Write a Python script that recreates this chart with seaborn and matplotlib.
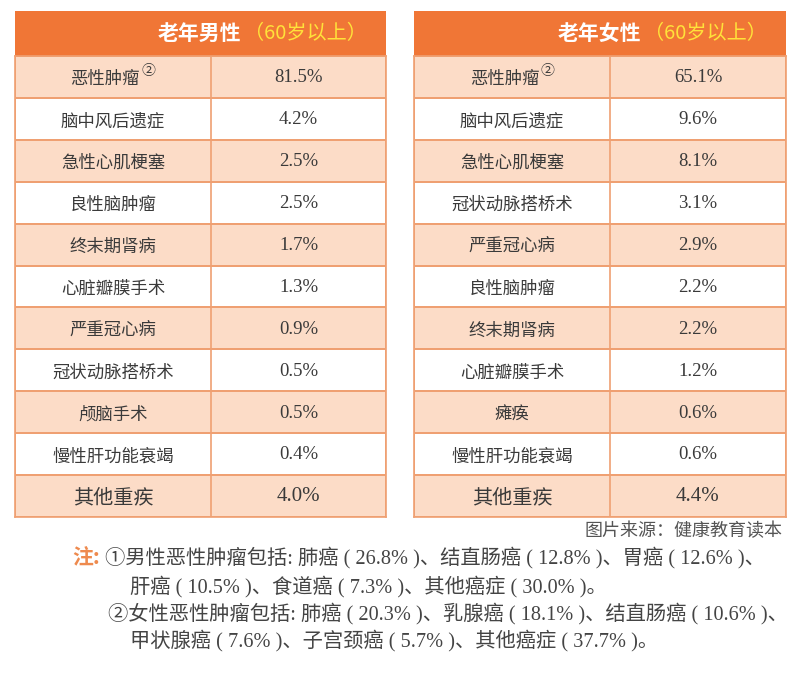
import numpy as np
import seaborn as sns
import matplotlib.pyplot as plt
from matplotlib.colors import ListedColormap

# data
men_title = "老年男性"
women_title = "老年女性"
age_note = "（60岁以上）"
men_items = ["恶性肿瘤", "脑中风后遗症", "急性心肌梗塞", "良性脑肿瘤", "终末期肾病",
             "心脏瓣膜手术", "严重冠心病", "冠状动脉搭桥术", "颅脑手术", "慢性肝功能衰竭", "其他重疾"]
men_pct = ["81.5%", "4.2%", "2.5%", "2.5%", "1.7%", "1.3%", "0.9%", "0.5%", "0.5%", "0.4%", "4.0%"]
women_items = ["恶性肿瘤", "脑中风后遗症", "急性心肌梗塞", "冠状动脉搭桥术", "严重冠心病",
               "良性脑肿瘤", "终末期肾病", "心脏瓣膜手术", "瘫痪", "慢性肝功能衰竭", "其他重疾"]
women_pct = ["65.1%", "9.6%", "8.1%", "3.1%", "2.9%", "2.2%", "2.2%", "1.2%", "0.6%", "0.6%", "4.4%"]
source = "图片来源：健康教育读本"
notes = [
    "①男性恶性肿瘤包括: 肺癌 ( 26.8% )、结直肠癌 ( 12.8% )、胃癌 ( 12.6% )、",
    "肝癌 ( 10.5% )、食道癌 ( 7.3% )、其他癌症 ( 30.0% )。",
    "②女性恶性肿瘤包括: 肺癌 ( 20.3% )、乳腺癌 ( 18.1% )、结直肠癌 ( 10.6% )、",
    "甲状腺癌 ( 7.6% )、子宫颈癌 ( 5.7% )、其他癌症 ( 37.7% )。",
]

W, H = 810, 684
ORANGE = "#F07636"
LIGHT = "#FCDCC7"
LINE = "#EFA072"
TEXT = "#3a3a3a"

sns.set_theme(style="white")
plt.rcParams['font.family'] = ['Noto Sans CJK SC', 'DejaVu Sans']
SERIF = ['Liberation Serif', 'Noto Sans CJK SC']

fig = plt.figure(figsize=(W / 100, H / 100), dpi=100)
fig.patch.set_facecolor("white")


def box(x0, y0, x1, y1):
    return [x0 / W, 1 - y1 / H, (x1 - x0) / W, (y1 - y0) / H]


def draw_table(x0, x1, xdiv, title, items, pct):
    # header
    hx = fig.add_axes(box(x0, 11, x1, 56))
    hx.set_facecolor(ORANGE)
    hx.set_xticks([]); hx.set_yticks([])
    for s in hx.spines.values():
        s.set_visible(False)
    hx.text((158 - 15) / 371, 0.5, title, color="white", fontsize=15, fontweight="bold",
            ha="left", va="center", transform=hx.transAxes)
    hx.text((244 - 15) / 371, 0.5, age_note, color="#FFE23A", fontsize=14.5,
            ha="left", va="center", transform=hx.transAxes)

    # body
    ax = fig.add_axes(box(x0, 56, x1, 517))
    stripes = np.array([[1 - i % 2] for i in range(len(items))])
    sns.heatmap(stripes, ax=ax, cmap=ListedColormap(["white", LIGHT]), cbar=False,
                linewidths=1.2, linecolor=LINE, xticklabels=False, yticklabels=False)
    f = (xdiv - x0) / (x1 - x0)
    ax.axvline(f, color=LINE, lw=1.2)
    for s in ax.spines.values():
        s.set_visible(True)
        s.set_color(LINE)
        s.set_linewidth(1.2)
    n = len(items)
    for i, (name, val) in enumerate(zip(items, pct)):
        last = i == n - 1
        if i == 0:
            xr = (140 - 15) / 371
            ax.text(xr, i + 0.55, name, ha="right", va="center", color=TEXT, fontsize=12.5)
            ax.text(xr + 0.003, i + 0.35, "②", ha="left", va="center", color=TEXT, fontsize=10)
        else:
            ax.text(f / 2, i + 0.55, name, ha="center", va="center", color=TEXT,
                    fontsize=14.5 if last else 12.5)
        ax.text((1 + f) / 2, i + 0.52, val, ha="center", va="center", color=TEXT,
                family=SERIF, fontsize=15 if last else 13.5)


draw_table(15, 386, 211, men_title, men_items, men_pct)
draw_table(414, 786, 610, women_title, women_items, women_pct)

fig.text(782 / W, 1 - 531 / H, source, ha="right", va="center", color="#555555", fontsize=13)
fig.text(72 / W, 1 - 558 / H, "注:", ha="left", va="center", color="#EE8A4E",
         fontsize=15, fontweight="bold")
note_x = [105, 130, 108, 130]
note_y = [558, 587, 614, 641]
for x, y, t in zip(note_x, note_y, notes):
    fig.text(x / W, 1 - y / H, t, ha="left", va="center", color="#444444",
             family=SERIF, fontsize=14.6)

fig.savefig("out.png", dpi=100, facecolor="white")
